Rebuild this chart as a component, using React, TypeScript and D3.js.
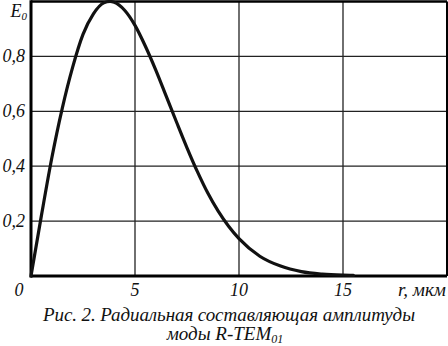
import React, { useEffect, useRef } from 'react';
import * as d3 from 'd3';

// radius, mkm
const rValues = [0, 0.5, 1, 1.5, 2, 2.5, 3, 3.5, 3.8, 4, 4.5, 5, 5.5, 6, 6.5, 7, 7.5, 8, 8.5, 9, 9.5, 10, 11, 12, 13, 14, 15, 15.5];
// relative amplitude E0
const eValues = [0, 0.22, 0.43, 0.61, 0.76, 0.88, 0.955, 0.995, 1.0, 0.997, 0.968, 0.913, 0.837, 0.75, 0.655, 0.56, 0.467, 0.38, 0.302, 0.236, 0.181, 0.136, 0.072, 0.036, 0.016, 0.007, 0.003, 0.002];

const xTicks = [0, 5, 10, 15];
const xTickLabels = ['0', '5', '10', '15'];
const yTicks = [0.2, 0.4, 0.6, 0.8];
const yTickLabels = ['0,2', '0,4', '0,6', '0,8'];
const captionLines = ['Рис. 2. Радиальная составляющая амплитуды', 'моды R-TEM'];

export default function App() {
  const svgRef = useRef<SVGSVGElement>(null);

  useEffect(() => {
    if (!svgRef.current) return;
    const width = 448;
    const height = 346;
    const font = '"Liberation Serif", "Times New Roman", Tinos, "DejaVu Serif", "Noto Serif", FreeSerif, serif';

    const svg = d3.select(svgRef.current);
    svg.selectAll('*').remove();
    svg.attr('width', width).attr('height', height);

    const x = d3.scaleLinear().domain([0, 20]).range([31, 447]);
    const y = d3.scaleLinear().domain([0, 1]).range([276, 1.5]);

    // grid
    svg.append('g')
      .selectAll('line')
      .data(xTicks.filter(d => d > 0))
      .join('line')
      .attr('x1', d => x(d)).attr('x2', d => x(d))
      .attr('y1', y(1)).attr('y2', y(0))
      .attr('stroke', '#222').attr('stroke-width', 1.3);

    svg.append('g')
      .selectAll('line')
      .data(yTicks)
      .join('line')
      .attr('x1', x(0)).attr('x2', x(20))
      .attr('y1', d => y(d)).attr('y2', d => y(d))
      .attr('stroke', '#222').attr('stroke-width', 1.3);

    // frame
    svg.append('line').attr('x1', x(0)).attr('x2', x(20)).attr('y1', y(1)).attr('y2', y(1))
      .attr('stroke', '#000').attr('stroke-width', 2.5);
    svg.append('line').attr('x1', x(20)).attr('x2', x(20)).attr('y1', y(1)).attr('y2', y(0))
      .attr('stroke', '#000').attr('stroke-width', 2);
    svg.append('line').attr('x1', x(0)).attr('x2', x(0)).attr('y1', y(1) - 1.2).attr('y2', y(0) + 1.5)
      .attr('stroke', '#000').attr('stroke-width', 3);
    svg.append('line').attr('x1', x(0)).attr('x2', x(20)).attr('y1', y(0)).attr('y2', y(0))
      .attr('stroke', '#000').attr('stroke-width', 3);

    // curve
    const pts = rValues.map((r, i) => [r, eValues[i]] as [number, number]);
    const line = d3.line<[number, number]>()
      .x(d => x(d[0]))
      .y(d => y(d[1]))
      .curve(d3.curveMonotoneX);
    svg.append('path')
      .datum(pts)
      .attr('d', line)
      .attr('fill', 'none')
      .attr('stroke', '#111')
      .attr('stroke-width', 3.2)
      .attr('stroke-linecap', 'round');

    const text = (tx: number, ty: number, s: string, anchor = 'middle', size = 18) =>
      svg.append('text')
        .attr('x', tx).attr('y', ty)
        .attr('text-anchor', anchor)
        .attr('font-family', font)
        .attr('font-style', 'italic')
        .attr('font-size', size)
        .attr('fill', '#111')
        .text(s);

    // y tick labels
    yTicks.forEach((d, i) => text(25, y(d) + 6, yTickLabels[i], 'end'));
    // x tick labels
    xTicks.forEach((d, i) => text(i === 0 ? 19 : x(d), 296, xTickLabels[i]));

    // axis titles
    const e0 = text(27, 17, 'E', 'end');
    e0.append('tspan').attr('font-size', 11).attr('dy', 3).text('0');
    text(446, 296, 'r, мкм', 'end', 19);

    // caption
    text(229, 321, captionLines[0], 'middle', 19)
      .attr('textLength', 372).attr('lengthAdjust', 'spacing');
    const c2 = text(225, 340, captionLines[1], 'middle', 19);
    c2.append('tspan').attr('font-size', 12).attr('dy', 3).text('01');
  }, []);

  return (
    <svg ref={svgRef} style={{ position: 'absolute', left: 0, top: 0, background: '#fff' }}></svg>
  );
}
